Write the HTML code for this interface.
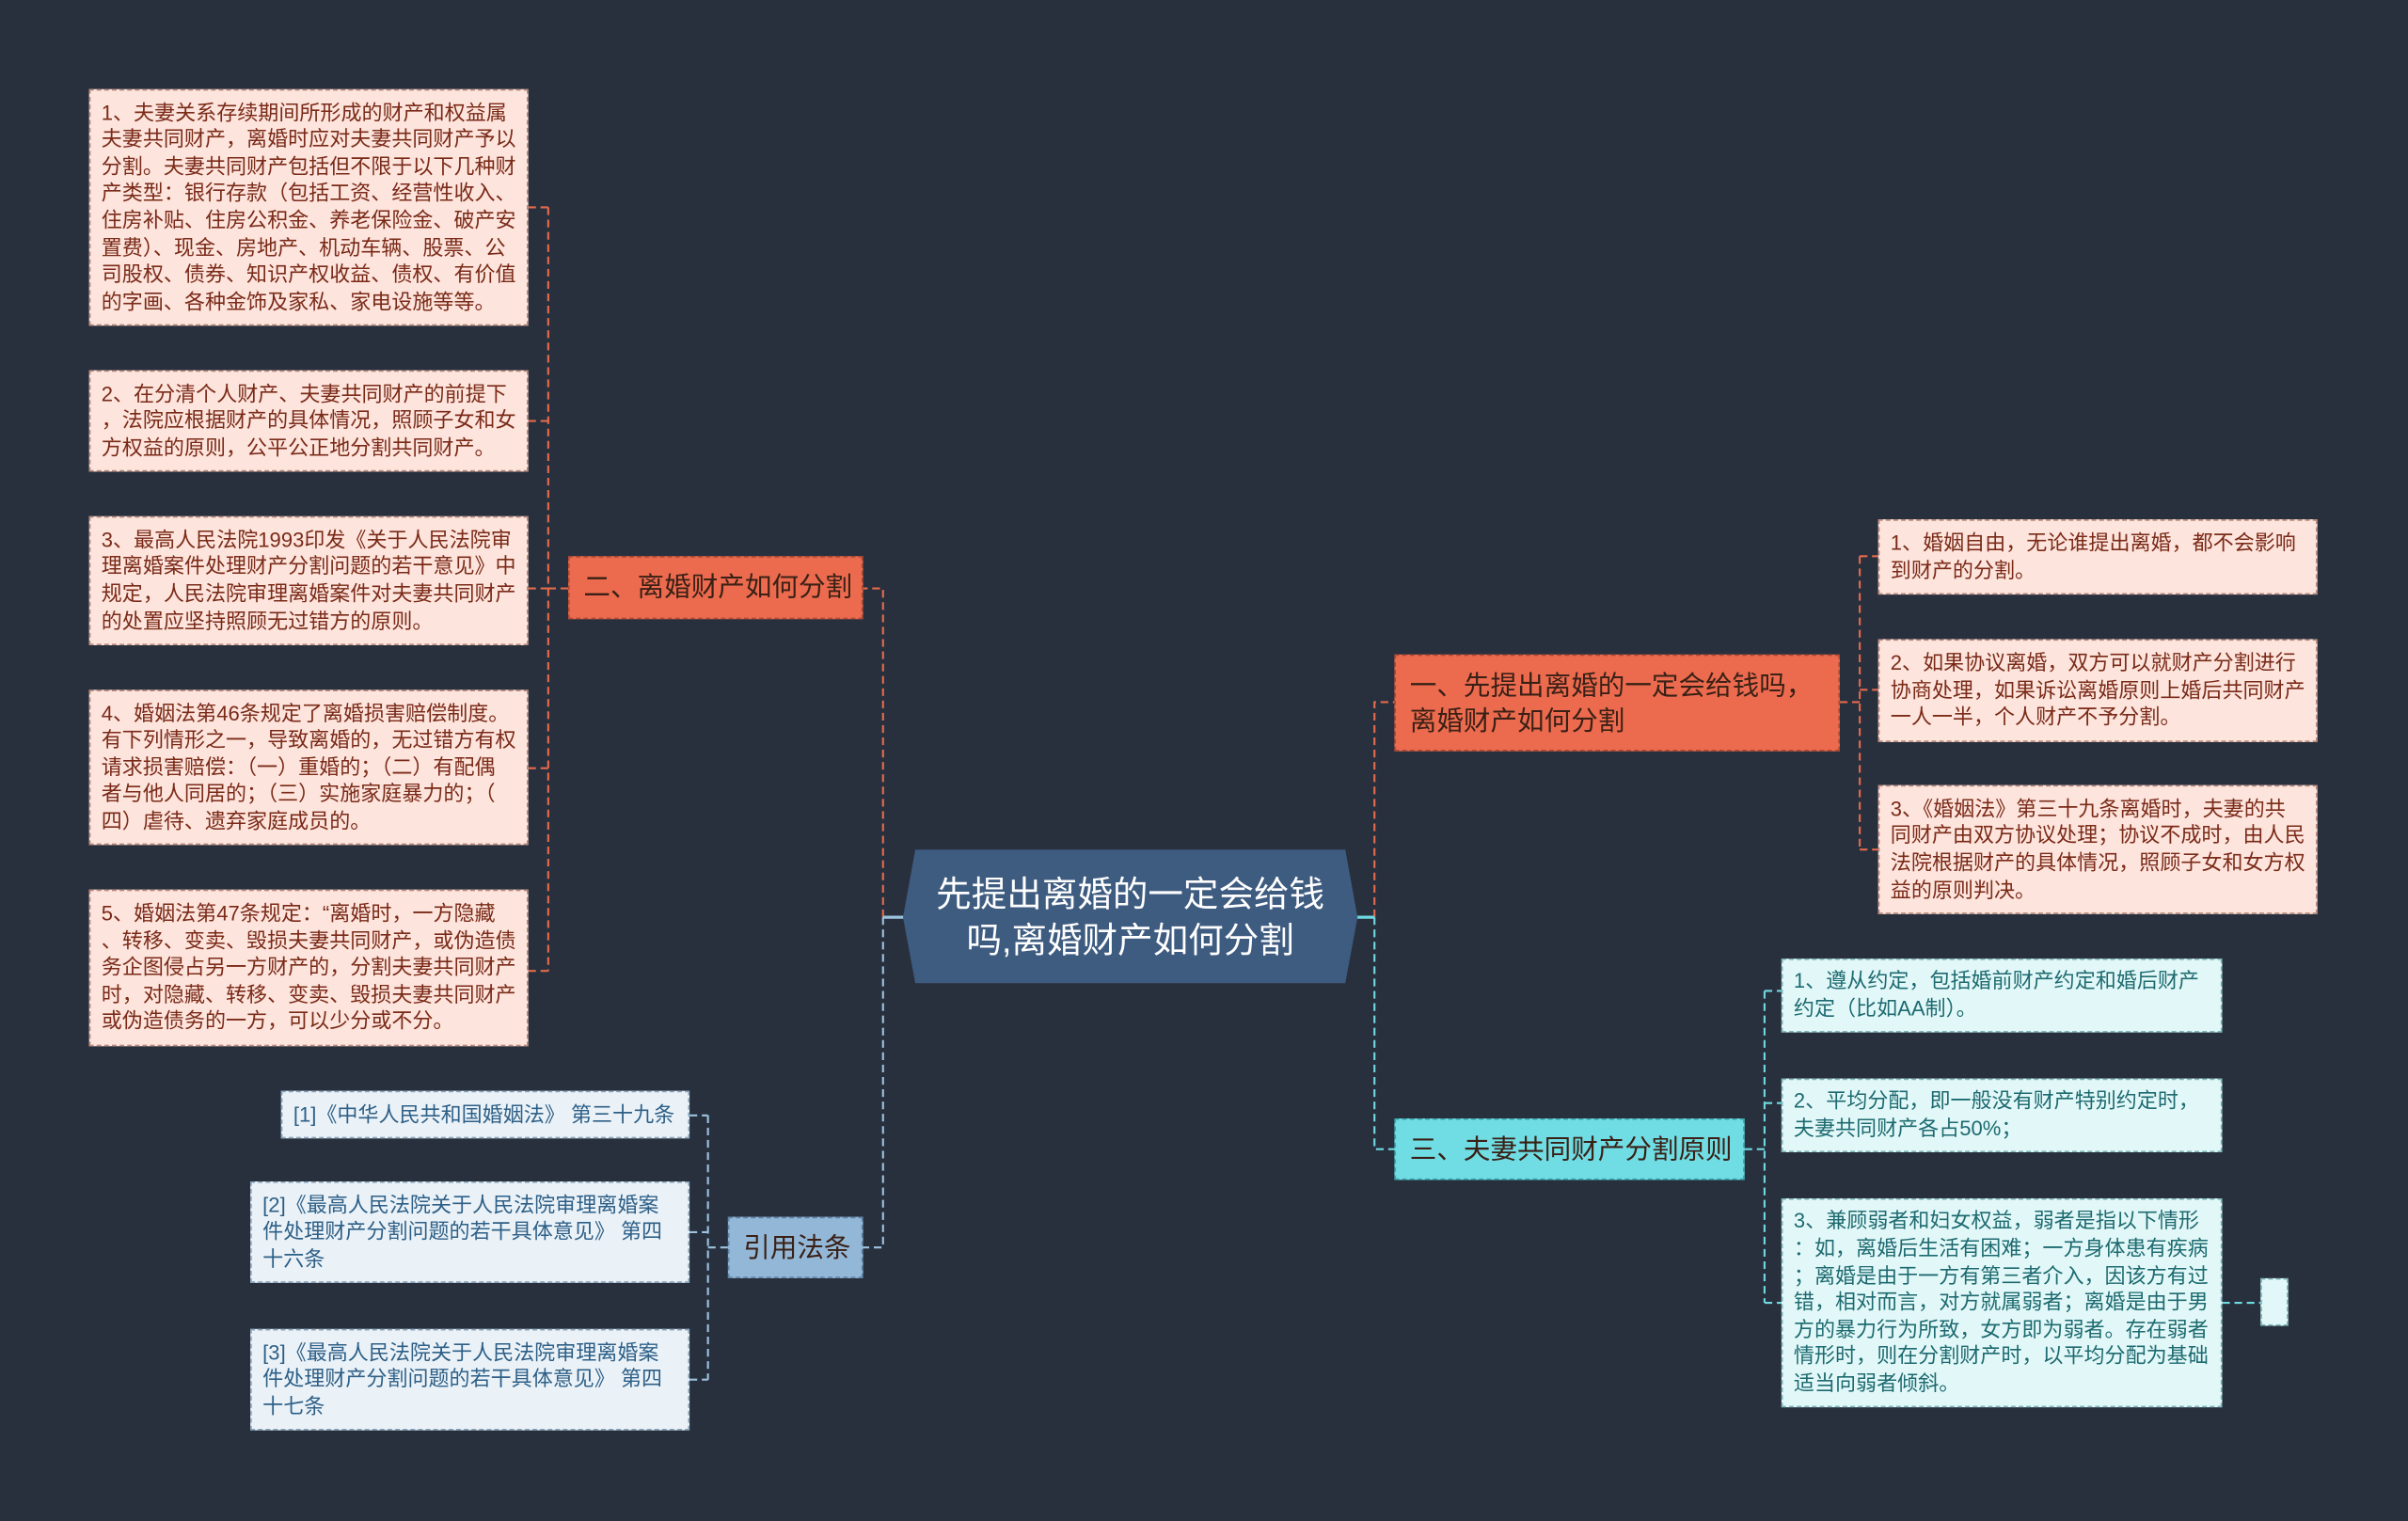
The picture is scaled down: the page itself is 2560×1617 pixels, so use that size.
<!DOCTYPE html>
<html><head><meta charset="utf-8"><style>
html,body{margin:0;padding:0;width:2560px;height:1617px;overflow:hidden;background:#28303e;}
#w{position:absolute;left:0;top:0;width:1568px;height:990px;transform:scale(1.63265,1.6333);transform-origin:0 0;font-family:"Liberation Sans","Noto Sans CJK SC",sans-serif;}
.b{position:absolute;box-sizing:border-box;display:flex;flex-direction:column;justify-content:center;padding:0 7px;font-size:13.5px;line-height:17.6px;white-space:nowrap;overflow:hidden;}
.p{background:#fde4dc;border:1px dashed #b98a7c;color:#7a2a18;}
.c{background:#e2f8f8;border:1px dashed #7fb7b9;color:#1d6a70;}
.q{background:#eaf2f8;border:1px dashed #8aa5bd;color:#2e5f86;}
.n{position:absolute;box-sizing:border-box;display:flex;flex-direction:column;justify-content:center;padding:0 9px;font-size:17.5px;line-height:23px;white-space:nowrap;color:#3a2016;}
svg{position:absolute;left:0;top:0;}
</style></head><body><div id="w">
<svg width="1568" height="990" viewBox="0 0 1568 990">
<g fill="none" stroke-width="1.3" stroke-dasharray="5,3">
<g stroke="#e46a4c">
<path d="M575 597 V383 H562"/>
<path d="M370 383 H357 M357 135 V632 M344 135 H357 M344 274 H357 M344 383 H357 M344 500 H357 M344 632 H357"/>
<path d="M895 597 V457 H908"/>
<path d="M1198 457 H1211 M1211 362 V553 M1211 362 H1223 M1211 449 H1223 M1211 553 H1223"/>
</g>
<g stroke="#9cc3df">
<path d="M575 597 V812 H562"/>
<path d="M474 812 H461 M461 726 V898 M449 726 H461 M449 802 H461 M449 898 H461"/>
</g>
<g stroke="#6fd9e0">
<path d="M895 597 V748 H908"/>
<path d="M1136 748 H1149 M1149 645 V848 M1149 645 H1160 M1149 718 H1160 M1149 848 H1160"/>
<path d="M1447 848 H1472"/>
</g>
</g>
<path d="M575 597 H590" stroke="#9cc3df" stroke-width="2"/>
<path d="M883 597 H895" stroke="#6fd9e0" stroke-width="2"/>
<polygon points="596,553 876,553 884,597 876,640 596,640 588,597" fill="#3e5b80"/>
<text x="736" y="590" text-anchor="middle" font-size="23" fill="#fff" font-family="Liberation Sans, Noto Sans CJK SC, sans-serif">先提出离婚的一定会给钱</text>
<text x="736" y="620" text-anchor="middle" font-size="23" fill="#fff" font-family="Liberation Sans, Noto Sans CJK SC, sans-serif">吗,离婚财产如何分割</text>
</svg>

<div class="b p" style="left:58px;top:58px;width:286px;height:154px">1、夫妻关系存续期间所形成的财产和权益属<br>夫妻共同财产，离婚时应对夫妻共同财产予以<br>分割。夫妻共同财产包括但不限于以下几种财<br>产类型：银行存款（包括工资、经营性收入、<br>住房补贴、住房公积金、养老保险金、破产安<br>置费）、现金、房地产、机动车辆、股票、公<br>司股权、债券、知识产权收益、债权、有价值<br>的字画、各种金饰及家私、家电设施等等。</div>
<div class="b p" style="left:58px;top:241px;width:286px;height:66px">2、在分清个人财产、夫妻共同财产的前提下<br>，法院应根据财产的具体情况，照顾子女和女<br>方权益的原则，公平公正地分割共同财产。</div>
<div class="b p" style="left:58px;top:336px;width:286px;height:84px">3、最高人民法院1993印发《关于人民法院审<br>理离婚案件处理财产分割问题的若干意见》中<br>规定，人民法院审理离婚案件对夫妻共同财产<br>的处置应坚持照顾无过错方的原则。</div>
<div class="b p" style="left:58px;top:449px;width:286px;height:101px">4、婚姻法第46条规定了离婚损害赔偿制度。<br>有下列情形之一，导致离婚的，无过错方有权<br>请求损害赔偿：（一）重婚的；（二）有配偶<br>者与他人同居的；（三）实施家庭暴力的；（<br>四）虐待、遗弃家庭成员的。</div>
<div class="b p" style="left:58px;top:579px;width:286px;height:102px">5、婚姻法第47条规定：“离婚时，一方隐藏<br>、转移、变卖、毁损夫妻共同财产，或伪造债<br>务企图侵占另一方财产的，分割夫妻共同财产<br>时，对隐藏、转移、变卖、毁损夫妻共同财产<br>或伪造债务的一方，可以少分或不分。</div>
<div class="n" style="left:370px;top:362px;width:192px;height:41px;background:#ec6b4e;border:1px dashed #b24a33">二、离婚财产如何分割</div>

<div class="b q" style="left:183px;top:710px;width:266px;height:31px">[1]《中华人民共和国婚姻法》 第三十九条</div>
<div class="b q" style="left:163px;top:769px;width:286px;height:66px">[2]《最高人民法院关于人民法院审理离婚案<br>件处理财产分割问题的若干具体意见》 第四<br>十六条</div>
<div class="b q" style="left:163px;top:865px;width:286px;height:66px">[3]《最高人民法院关于人民法院审理离婚案<br>件处理财产分割问题的若干具体意见》 第四<br>十七条</div>
<div class="n" style="left:474px;top:792px;width:88px;height:40px;background:#93b7d6;border:1px dashed #5f84a6">引用法条</div>

<div class="n" style="left:908px;top:426px;width:290px;height:63px;background:#ec6b4e;border:1px dashed #b24a33">一、先提出离婚的一定会给钱吗，<br>离婚财产如何分割</div>
<div class="b p" style="left:1223px;top:338px;width:286px;height:49px">1、婚姻自由，无论谁提出离婚，都不会影响<br>到财产的分割。</div>
<div class="b p" style="left:1223px;top:416px;width:286px;height:67px">2、如果协议离婚，双方可以就财产分割进行<br>协商处理，如果诉讼离婚原则上婚后共同财产<br>一人一半，个人财产不予分割。</div>
<div class="b p" style="left:1223px;top:511px;width:286px;height:84px">3、《婚姻法》第三十九条离婚时，夫妻的共<br>同财产由双方协议处理；协议不成时，由人民<br>法院根据财产的具体情况，照顾子女和女方权<br>益的原则判决。</div>

<div class="n" style="left:908px;top:728px;width:228px;height:40px;background:#6fdde3;border:1px dashed #3aa8ae">三、夫妻共同财产分割原则</div>
<div class="b c" style="left:1160px;top:624px;width:287px;height:48px">1、遵从约定，包括婚前财产约定和婚后财产<br>约定（比如AA制）。</div>
<div class="b c" style="left:1160px;top:702px;width:287px;height:48px">2、平均分配，即一般没有财产特别约定时，<br>夫妻共同财产各占50%；</div>
<div class="b c" style="left:1160px;top:780px;width:287px;height:136px">3、兼顾弱者和妇女权益，弱者是指以下情形<br>：如，离婚后生活有困难；一方身体患有疾病<br>；离婚是由于一方有第三者介入，因该方有过<br>错，相对而言，对方就属弱者；离婚是由于男<br>方的暴力行为所致，女方即为弱者。存在弱者<br>情形时，则在分割财产时，以平均分配为基础<br>适当向弱者倾斜。</div>
<div class="b c" style="left:1472px;top:832px;width:18px;height:31px;padding:0"></div>
</div></body></html>
